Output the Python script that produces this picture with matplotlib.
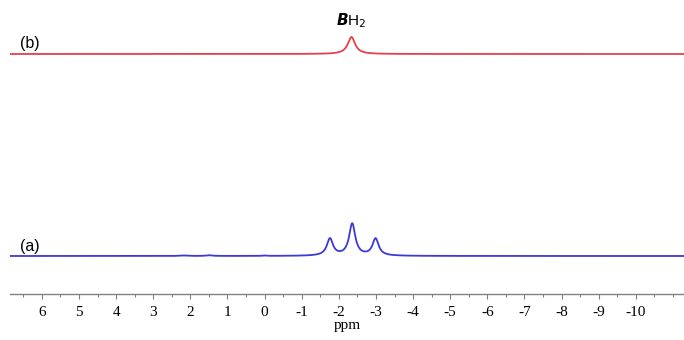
import numpy as np
import matplotlib.pyplot as plt
from matplotlib.ticker import MultipleLocator

# ── Peak tables (ppm, height, half width) ──
red_pos    = [-2.34]
red_height = [17.0]
red_hw     = [0.12]

blue_pos    = [-1.76, -2.36, -2.99, 2.2, 1.49, 0.0]
blue_height = [17.0, 32.0, 17.0, 0.5, 0.7, 0.4]
blue_hw     = [0.1, 0.1, 0.1, 0.1, 0.1, 0.05]

red_base  = 240.0
blue_base = 38.0

x_ticks = list(range(6, -11, -1))


def lorentz_sum(x, pos, height, hw, base):
    y = np.full_like(x, base)
    for p, h, w in zip(pos, height, hw):
        y += h / (1 + ((x - p) / w) ** 2)
    return y


x = np.linspace(6.86, -11.3, 4000)
y_red = lorentz_sum(x, red_pos, red_height, red_hw, red_base)
y_blue = lorentz_sum(x, blue_pos, blue_height, blue_hw, blue_base)

fig = plt.figure(figsize=(6.84, 3.4), dpi=100)
ax = fig.add_axes([10 / 684, 46 / 340, 674 / 684, 294 / 340])

ax.plot(x, y_red, color="#e5404a", lw=1.3)
ax.plot(x, y_blue, color="#3a3ad8", lw=1.3)

ax.set_xlim(6.86, -11.3)
ax.set_ylim(0, 294)

for s in ["top", "left", "right"]:
    ax.spines[s].set_visible(False)
ax.spines["bottom"].set_color("#808080")
ax.spines["bottom"].set_linewidth(1.0)
ax.set_yticks([])

ax.set_xticks(x_ticks)
ax.set_xticklabels([str(t) for t in x_ticks], family="Liberation Serif", fontsize=11)
ax.xaxis.set_minor_locator(MultipleLocator(0.5))
ax.tick_params(axis="x", which="major", direction="out", length=3.5, width=0.8,
               color="#808080", pad=5)
ax.tick_params(axis="x", which="minor", direction="out", length=2, width=0.8,
               color="#808080")
ax.set_xlabel("ppm", family="Liberation Serif", fontsize=11, labelpad=0)

ax.text(6.6, red_base + 3, "(b)", family="Liberation Sans", fontsize=11.5,
        ha="left", va="bottom")
ax.text(6.6, blue_base + 2, "(a)", family="Liberation Sans", fontsize=11.5,
        ha="left", va="bottom")
ax.text(-2.34, 264, r"$\boldsymbol{B}$H$_2$", family="Liberation Sans", fontsize=11,
        ha="center", va="bottom")

fig.savefig("out.png", dpi=100)
